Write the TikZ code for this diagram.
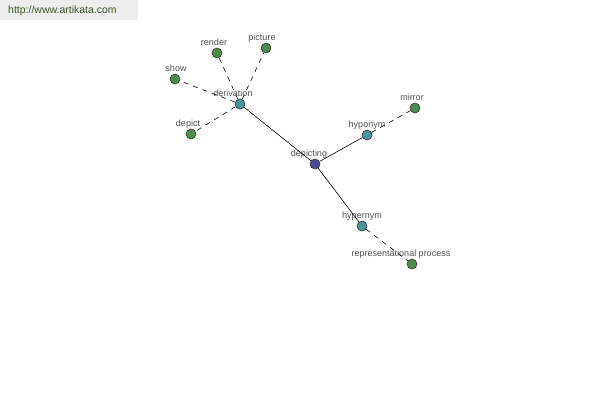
\documentclass[tikz,border=0pt]{standalone}
\usepackage{fontspec}
\setmainfont{Liberation Sans}
\usetikzlibrary{positioning}
\definecolor{leaf}{HTML}{4F8C4F}
\definecolor{sense}{HTML}{4A9696}
\definecolor{root}{HTML}{4A4A9A}
\definecolor{tagc}{HTML}{505050}
\definecolor{sitec}{HTML}{3A5428}
\tikzset{wordnode/.style={circle,draw=black!80,line width=.6pt,minimum size=10pt,inner sep=0pt},
  leaf/.style={wordnode,fill=leaf},
  sense/.style={wordnode,fill=sense},
  root/.style={wordnode,fill=root},
  tag/.style={text=tagc,font=\fontsize{9}{10}\selectfont,inner sep=0pt,text depth=0pt,label distance=2pt},
  wire/.style={draw=black,line width=.6pt},
  link/.style={draw=black,line width=.6pt,dash pattern=on 5pt off 5pt},
  banner/.style={fill=black!7,minimum width=138pt,minimum height=20pt,inner sep=0pt},
  sitetext/.style={text=sitec,font=\fontsize{10.5}{12}\selectfont,inner sep=0pt,anchor=west}}

\begin{document}
\begin{tikzpicture}[x=1pt,y=-1pt]
\useasboundingbox (0,0) rectangle (600,400);
% Site banner.
\node[banner] (site) at (69,10) {};
\node[sitetext] (url) at (8,11) {http://www.artikata.com};

% Words: name/kind/x/y/label shift/text.
\foreach \id/\kind/\x/\y/\dx/\txt in {
  depicting/root/315/164/-6/depicting,
  derivation/sense/240/104/-7/derivation,
  hyponym/sense/367/135/0/hyponym,
  hypernym/sense/362/226/0/hypernym,
  render/leaf/217/53/-3/render,
  picture/leaf/266/48/-4/picture,
  show/leaf/175/79/1/show,
  depict/leaf/191/134/-3/depict,
  mirror/leaf/415/108/-3/mirror,
  repr/leaf/412/264/-11/representational process
}{
  \node[\kind,label={[tag,xshift=\dx pt]above:\txt}] (\id) at (\x,\y) {};
}

% Direct relations of the root.
\foreach \b in {derivation,hyponym,hypernym}
  \draw[wire] (depicting) -- (\b);

% Further relations.
\foreach \a/\b in {derivation/render,derivation/picture,derivation/show,
  derivation/depict,hyponym/mirror,hypernym/repr}
  \draw[link] (\a) -- (\b);
\end{tikzpicture}
\end{document}
